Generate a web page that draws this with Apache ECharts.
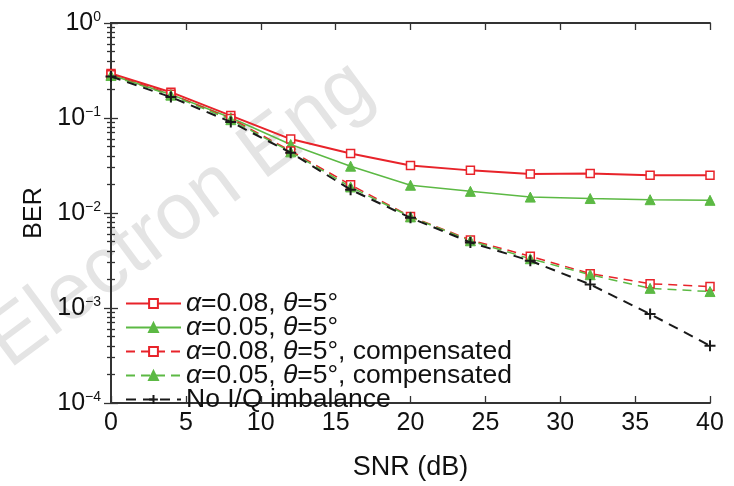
<!DOCTYPE html>
<html>
<head>
<meta charset="utf-8">
<script src="https://cdn.jsdelivr.net/npm/echarts@6/dist/echarts.min.js"></script>
<style>
  html, body { margin: 0; padding: 0; background: #fff; }
  #main { width: 734px; height: 486px; }
</style>
</head>
<body>
<div id="main"></div>
<script>
// SNR (dB) on x
const snr = [0, 4, 8, 12, 16, 20, 24, 28, 32, 36, 40]
// BER curves
const ber08 = [0.294, 0.187, 0.106, 0.060, 0.0423, 0.0316, 0.0281, 0.0258, 0.0260, 0.0250, 0.0250]
const ber05 = [0.283, 0.177, 0.1007, 0.0526, 0.0311, 0.0196, 0.0169, 0.0147, 0.0142, 0.0138, 0.0136]
const ber08Comp = [0.285, 0.178, 0.099, 0.045, 0.0198, 0.0092, 0.0052, 0.0035, 0.0023, 0.0018, 0.00168]
const ber05Comp = [0.280, 0.174, 0.096, 0.044, 0.0188, 0.0091, 0.0051, 0.0033, 0.00224, 0.00161, 0.00149]
const berIdeal = [0.273, 0.166, 0.091, 0.0432, 0.0176, 0.0089, 0.0049, 0.00314, 0.00177, 0.000863, 0.0004]

// tick labels
const xTicks = [0, 5, 10, 15, 20, 25, 30, 35, 40]
const yTickPowers = [-4, -3, -2, -1, 0]

const legendNames = [
  '{i|α}=0.08, {i|θ}=5°',
  '{i|α}=0.05, {i|θ}=5°',
  '{i|α}=0.08, {i|θ}=5°, compensated',
  '{i|α}=0.05, {i|θ}=5°, compensated',
  'No I/Q imbalance',
]

const RED = '#e8232a'
const GREEN = '#5cb944'
const BLACK = '#1a1a1a'
const FONT = 'Liberation Sans'

function pairs(ys) {
  return snr.map((x, i) => [x, ys[i]])
}

function yLabel(v) {
  const p = Math.round(Math.log10(v))
  if (!yTickPowers.includes(p))
    return ''
  return '{b|10}{s|' + (p < 0 ? '\u2212' + (-p) : p) + '}'
}

const tickInside = { show: true, inside: true, length: 7, lineStyle: { color: '#333', width: 1.3 } }
const minorInside = { show: true, splitNumber: 9, length: 4, lineStyle: { color: '#333', width: 1.3 } }
const axisLine = { show: true, lineStyle: { color: '#333', width: 2 } }

const chart = echarts.init(document.getElementById('main'))

const option = {
  animation: false,
  backgroundColor: '#fff',
  textStyle: { fontFamily: FONT },
  grid: { left: 111, right: 24, top: 23, bottom: 71 },
  graphic: [{
    type: 'text',
    x: 180,
    y: 215,
    rotation: 0.64,
    z: -10,
    silent: true,
    style: {
      text: 'Electron Eng',
      fill: '#e4e4e4',
      font: '80px "Liberation Sans"',
      align: 'center',
      verticalAlign: 'middle',
    },
  }],
  legend: {
    orient: 'vertical',
    left: 120,
    top: 285,
    itemWidth: 55,
    itemHeight: 11,
    itemGap: -3,
    textStyle: {
      fontSize: 26.5,
      lineHeight: 25,
      color: '#111',
      fontFamily: FONT,
      rich: {
        i: { fontSize: 26.5, lineHeight: 25, fontStyle: 'italic', color: '#111', fontFamily: FONT },
      },
    },
    data: legendNames,
  },
  xAxis: [
    {
      type: 'value',
      min: 0,
      max: 40,
      interval: 5,
      name: 'SNR (dB)',
      nameLocation: 'middle',
      nameGap: 51,
      nameTextStyle: { fontSize: 27, color: '#111' },
      axisLine,
      axisTick: tickInside,
      splitLine: { show: false },
      axisLabel: {
        fontSize: 25,
        color: '#111',
        margin: 8,
        formatter: v => (xTicks.includes(v) ? String(v) : ''),
      },
    },
    {
      type: 'value',
      position: 'top',
      min: 0,
      max: 40,
      interval: 5,
      axisLine,
      axisTick: tickInside,
      splitLine: { show: false },
      axisLabel: { show: false },
    },
  ],
  yAxis: [
    {
      type: 'log',
      logBase: 10,
      min: 1e-4,
      max: 1,
      name: 'BER',
      nameLocation: 'middle',
      nameGap: 64,
      nameTextStyle: { fontSize: 25, color: '#111' },
      axisLine,
      axisTick: tickInside,
      minorTick: minorInside,
      splitLine: { show: false },
      minorSplitLine: { show: false },
      axisLabel: {
        margin: 10,
        color: '#111',
        formatter: yLabel,
        rich: {
          b: { fontSize: 25, lineHeight: 26, color: '#111', fontFamily: FONT },
          s: { fontSize: 14, verticalAlign: 'top', color: '#111', fontFamily: FONT },
        },
      },
    },
    {
      type: 'log',
      logBase: 10,
      min: 1e-4,
      max: 1,
      position: 'right',
      axisLine,
      axisTick: tickInside,
      minorTick: minorInside,
      splitLine: { show: false },
      minorSplitLine: { show: false },
      axisLabel: { show: false },
    },
  ],
  series: [
    {
      name: legendNames[0],
      type: 'line',
      data: pairs(ber08),
      symbol: 'rect',
      symbolSize: 8,
      lineStyle: { color: RED, width: 2 },
      itemStyle: { color: '#fff', borderColor: RED, borderWidth: 1.5 },
      z: 3,
    },
    {
      name: legendNames[1],
      type: 'line',
      data: pairs(ber05),
      symbol: 'triangle',
      symbolSize: 10,
      lineStyle: { color: GREEN, width: 1.5 },
      itemStyle: { color: GREEN, borderColor: GREEN, borderWidth: 1 },
      z: 3,
    },
    {
      name: legendNames[2],
      type: 'line',
      data: pairs(ber08Comp),
      symbol: 'rect',
      symbolSize: 8,
      lineStyle: { color: RED, width: 1.5, type: [9, 6] },
      itemStyle: { color: '#fff', borderColor: RED, borderWidth: 1.5 },
      z: 4,
    },
    {
      name: legendNames[3],
      type: 'line',
      data: pairs(ber05Comp),
      symbol: 'triangle',
      symbolSize: 10,
      lineStyle: { color: GREEN, width: 1.5, type: [9, 6] },
      itemStyle: { color: GREEN, borderColor: GREEN, borderWidth: 1 },
      z: 4,
    },
    {
      name: legendNames[4],
      type: 'line',
      data: pairs(berIdeal),
      symbol: 'path://M5,0L5,10M0,5L10,5',
      symbolSize: 11,
      lineStyle: { color: BLACK, width: 2, type: [10, 7] },
      itemStyle: { color: 'none', borderColor: BLACK, borderWidth: 2 },
      z: 5,
    },
  ],
}

chart.setOption(option)
</script>
</body>
</html>
